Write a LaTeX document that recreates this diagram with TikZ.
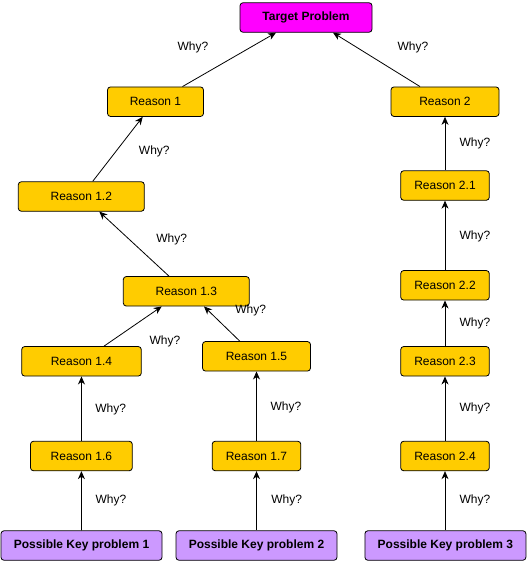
\documentclass[tikz,border=0pt]{standalone}
\usepackage{fontspec}
\setmainfont{Liberation Sans}
\usetikzlibrary{arrows.meta,positioning}

\definecolor{reasonorange}{HTML}{FFCC00}
\definecolor{targetpink}{HTML}{FF00FF}
\definecolor{keypurple}{HTML}{CC99FF}

\begin{document}
\begin{tikzpicture}[x=1pt,y=-1pt,>={Stealth[length=8pt,width=7pt,inset=2.5pt]},
	every node/.style={font=\fontsize{12}{14}\selectfont},
	box/.style={draw,rounded corners=3pt,line width=0.8pt,minimum height=29.5pt,inner sep=0pt},
	reason/.style={box,fill=reasonorange},
	target/.style={box,fill=targetpink,font=\fontsize{12}{14}\selectfont\bfseries},
	keyprob/.style={box,fill=keypurple,minimum width=161pt,font=\fontsize{12}{14}\selectfont\bfseries},
	why/.style={inner sep=0pt},
	every path/.style={line width=0.8pt}]
	\useasboundingbox (0,0) rectangle (532,570);
	% boxes
	\node[target,minimum width=132pt] (target) at (306,17.5) {Target Problem};
	\node[reason,minimum width=96pt] (r1) at (155.5,101.7) {Reason 1};
	\node[reason,minimum width=108pt] (r2) at (445,101.7) {Reason 2};
	\node[reason,minimum width=126pt] (r12) at (81.3,196.5) {Reason 1.2};
	\node[reason,minimum width=88.6pt] (r21) at (445,185.5) {Reason 2.1};
	\node[reason,minimum width=126pt] (r13) at (186.3,291.3) {Reason 1.3};
	\node[reason,minimum width=88.6pt] (r22) at (445,285.3) {Reason 2.2};
	\node[reason,minimum width=119.6pt] (r14) at (81.5,361.3) {Reason 1.4};
	\node[reason,minimum width=108pt] (r15) at (256.5,356.3) {Reason 1.5};
	\node[reason,minimum width=88.6pt] (r23) at (445,361.3) {Reason 2.3};
	\node[reason,minimum width=101.8pt] (r16) at (81.4,456) {Reason 1.6};
	\node[reason,minimum width=88.6pt] (r17) at (256.5,456) {Reason 1.7};
	\node[reason,minimum width=88.6pt] (r24) at (445,456) {Reason 2.4};
	\node[keyprob] (pk1) at (81.5,545.5) {Possible Key problem 1};
	\node[keyprob] (pk2) at (256.5,545.5) {Possible Key problem 2};
	\node[keyprob] (pk3) at (445.4,545.5) {Possible Key problem 3};
	% labels
	\node[why] (w1) at (193,47) {Why?};
	\node[why] (w2) at (413,47) {Why?};
	\node[why] (w12) at (154.3,151.7) {Why?};
	\node[why] (w21) at (475,143) {Why?};
	\node[why] (w13) at (171.7,239) {Why?};
	\node[why] (w22) at (475,236) {Why?};
	\node[why] (w15) at (250.7,310.7) {Why?};
	\node[why] (w23) at (475,323) {Why?};
	\node[why] (w14) at (165,341.7) {Why?};
	\node[why] (w24) at (475,408) {Why?};
	\node[why] (w16) at (110.7,409) {Why?};
	\node[why] (w17) at (286,407) {Why?};
	\node[why] (wk1) at (111,500.5) {Why?};
	\node[why] (wk2) at (286.7,500.5) {Why?};
	\node[why] (wk3) at (475,500.5) {Why?};
	% arrows
	\draw[->] ([xshift=27pt]r1.north) -- ([xshift=-30pt]target.south);
	\draw[->] ([xshift=-25pt]r2.north) -- ([xshift=27pt]target.south);
	\draw[->] ([xshift=11.4pt]r12.north) -- ([xshift=-12.8pt]r1.south);
	\draw[->] ([xshift=-17.3pt]r13.north) -- ([xshift=18pt]r12.south);
	\draw[->] ([xshift=22.5pt]r14.north) -- ([xshift=-24.6pt]r13.south);
	\draw[->] ([xshift=-16.7pt]r15.north) -- ([xshift=17.7pt]r13.south);
	\draw[->] (r21) -- (r2);
	\draw[->] (r22) -- (r21);
	\draw[->] (r23) -- (r22);
	\draw[->] (r24) -- (r23);
	\draw[->] (r16) -- (r14);
	\draw[->] (r17) -- (r15);
	\draw[->] (pk1) -- (r16);
	\draw[->] (pk2) -- (r17);
	\draw[->] (pk3.north-|r24) -- (r24);
\end{tikzpicture}
\end{document}
